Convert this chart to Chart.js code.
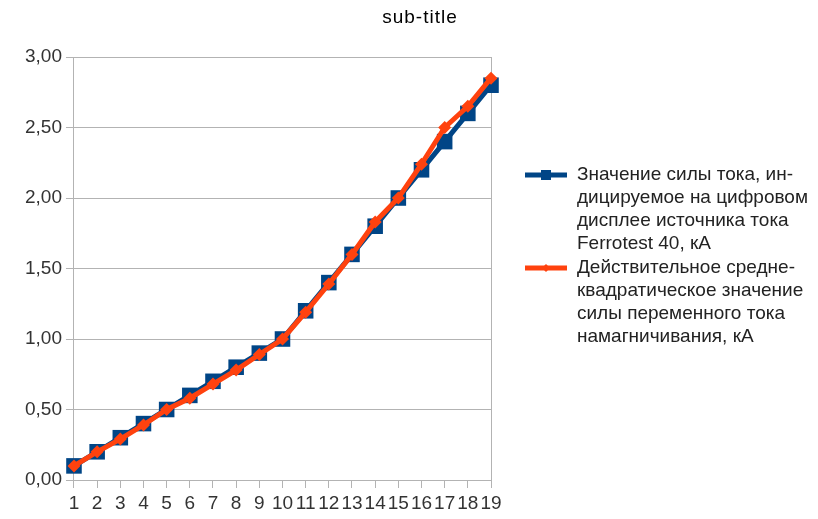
<!DOCTYPE html>
<html>
<head>
<meta charset="utf-8">
<script src="https://cdn.jsdelivr.net/npm/chart.js@4/dist/chart.umd.min.js"></script>
<style>
  html, body { margin: 0; padding: 0; background: #fff; }
  #wrap { width: 818px; height: 519px; }
</style>
</head>
<body>
<div id="wrap"><canvas id="chart"></canvas></div>
<script>
// ===========================
// Data
// ===========================
const categories = ['1','2','3','4','5','6','7','8','9','10','11','12','13','14','15','16','17','18','19'];

const displayedCurrent = [0.10, 0.20, 0.30, 0.40, 0.50, 0.60, 0.70, 0.80, 0.90, 1.00,
                          1.20, 1.40, 1.60, 1.80, 2.00, 2.20, 2.40, 2.60, 2.80];

const actualRmsCurrent = [0.10, 0.20, 0.29, 0.39, 0.50, 0.58, 0.68, 0.78, 0.89, 1.00,
                          1.19, 1.39, 1.60, 1.83, 2.00, 2.24, 2.50, 2.65, 2.85];

const seriesNames = [
    ['Значение силы тока, ин-', 'дицируемое на цифровом', 'дисплее источника тока', 'Ferrotest 40, кА'],
    ['Действительное средне-', 'квадратическое значение', 'силы переменного тока', 'намагничивания, кА']
];

const chartTitle = 'sub-title';

const yTicks = { min: 0, max: 3, step: 0.5 };

const FONT = 'Liberation Sans, Arial, sans-serif';
const GRID = '#b3b3b3';

// ===========================
// Title + side legend (multi-line labels)
// ===========================
const sideLegend = {
    id: 'sideLegend',
    afterDraw(chart) {
        const ctx = chart.ctx;
        const lineH = 23;
        let y = 175;
        ctx.save();

        // title
        ctx.font = '19px ' + FONT;
        ctx.fillStyle = '#000';
        ctx.textAlign = 'center';
        ctx.textBaseline = 'middle';
        ctx.letterSpacing = '1px';
        ctx.fillText(chartTitle, 420, 18);
        ctx.letterSpacing = '0px';

        ctx.textAlign = 'left';
        chart.data.datasets.forEach((ds, i) => {
            const x0 = 525, x1 = 567;
            ctx.strokeStyle = ds.borderColor;
            ctx.lineWidth = ds.borderWidth;
            ctx.beginPath();
            ctx.moveTo(x0, y);
            ctx.lineTo(x1, y);
            ctx.stroke();
            ctx.fillStyle = ds.borderColor;
            const r = i === 0 ? 5 : 4;
            const cx = (x0 + x1) / 2;
            ctx.beginPath();
            if (i === 0) {
                ctx.rect(cx - r, y - r, 2 * r, 2 * r);
            } else {
                ctx.moveTo(cx, y - r); ctx.lineTo(cx + r, y); ctx.lineTo(cx, y + r); ctx.lineTo(cx - r, y);
                ctx.closePath();
            }
            ctx.fill();
            ctx.fillStyle = '#222';
            seriesNames[i].forEach((t, k) => {
                ctx.fillText(t, 577, y + k * lineH);
            });
            y += seriesNames[i].length * lineH + 1;
        });
        ctx.restore();
    }
};

// ===========================
// Chart
// ===========================
new Chart(document.getElementById('chart'), {
    type: 'line',
    data: {
        labels: categories,
        datasets: [{
            label: seriesNames[0].join(' '),
            data: displayedCurrent,
            borderColor: '#004586',
            backgroundColor: '#004586',
            borderWidth: 5,
            pointStyle: 'rect',
            pointRadius: 11,
            pointHoverRadius: 11,
            pointBorderWidth: 0,
            tension: 0,
            order: 2
        }, {
            label: seriesNames[1].join(' '),
            data: actualRmsCurrent,
            borderColor: '#ff420e',
            backgroundColor: '#ff420e',
            borderWidth: 5,
            pointStyle: 'rectRot',
            pointRadius: 6.5,
            pointHoverRadius: 6.5,
            pointBorderWidth: 0,
            tension: 0,
            order: 1
        }]
    },
    options: {
        responsive: true,
        maintainAspectRatio: false,
        animation: false,
        layout: {
            padding: { left: 21, right: 327, top: 57, bottom: 0 }
        },
        plugins: {
            legend: { display: false },
            tooltip: { enabled: false },
            title: { display: false }
        },
        scales: {
            x: {
                offset: false,
                grid: {
                    color: (c) => (c.index === 0 || c.index === categories.length - 1) ? GRID : 'transparent',
                    tickColor: GRID,
                    tickLength: 8
                },
                border: { color: GRID },
                ticks: {
                    autoSkip: false,
                    maxRotation: 0,
                    padding: 6,
                    color: '#333',
                    font: { family: FONT, size: 19, lineHeight: 1 }
                }
            },
            y: {
                min: yTicks.min,
                max: yTicks.max,
                grid: { color: GRID, tickLength: 8 },
                border: { color: GRID },
                ticks: {
                    stepSize: yTicks.step,
                    padding: 4,
                    color: '#333',
                    font: { family: FONT, size: 19 },
                    callback: (v) => v.toFixed(2).replace('.', ',')
                }
            }
        }
    },
    plugins: [sideLegend]
});
</script>
</body>
</html>
